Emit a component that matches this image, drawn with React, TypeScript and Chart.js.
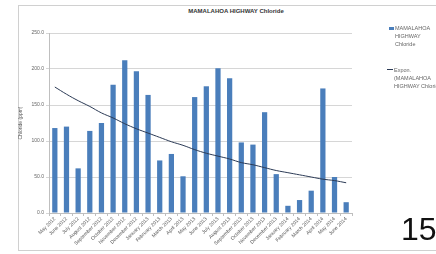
import React, { useEffect, useRef } from "react";
import { Chart, registerables } from "chart.js";

Chart.register(...registerables);

const categories = [
  "May 2012", "June 2012", "July 2012", "August 2012", "September 2012", "October 2012",
  "November 2012", "December 2012", "January 2013", "February 2013", "March 2013", "April 2013",
  "May 2013", "June 2013", "July 2013", "August 2013", "September 2013", "October 2013",
  "November 2013", "December 2013", "January 2014", "February 2014", "March 2014", "April 2014",
  "May 2014", "June 2014",
];

const chloride = [
  118, 120, 62, 114, 125, 178, 212, 197, 164, 73, 82, 51, 161,
  176, 201, 187, 98, 95, 140, 54, 10, 18, 31, 173, 50, 15,
];

const trend = [
  175, 165, 156, 148, 139, 132, 124, 117, 111, 105, 99, 94, 88,
  83, 79, 75, 70, 67, 63, 59, 56, 53, 50, 47, 45, 42,
];

const seriesLabel = "MAMALAHOA HIGHWAY Chloride";
const trendLabel = "Expon. (MAMALAHOA HIGHWAY Chloride)";
const titleText = "MAMALAHOA HIGHWAY Chloride";
const yTitle = "Chloride (ppm)";

export default function App() {
  const ref = useRef<HTMLCanvasElement>(null);

  useEffect(() => {
    const chart = new Chart(ref.current!, {
      type: "bar",
      data: {
        labels: categories,
        datasets: [
          {
            type: "line",
            label: trendLabel,
            data: trend,
            borderColor: "#2b3a55",
            borderWidth: 1,
            pointRadius: 0,
            tension: 0.4,
            order: 0,
          } as any,
          {
            type: "bar",
            label: seriesLabel,
            data: chloride,
            backgroundColor: "#4a7ebb",
            borderWidth: 0,
            barPercentage: 0.45,
            categoryPercentage: 1,
            order: 1,
          },
        ],
      },
      options: {
        responsive: false,
        animation: false,
        layout: { padding: { top: 28, right: 38, left: 0, bottom: 0 } },
        plugins: {
          legend: { display: false },
          title: { display: false },
          tooltip: { enabled: false },
        },
        scales: {
          x: {
            afterFit: (s: any) => { s.height = 37; },
            grid: { offset: true, drawOnChartArea: false, tickLength: 3, color: "#bfbfbf" },
            border: { color: "#bfbfbf" },
            ticks: {
              maxRotation: 45,
              minRotation: 45,
              autoSkip: false,
              padding: 0,
              font: { size: 5, family: "Liberation Sans, Arial, sans-serif" },
              color: "#555",
            },
          },
          y: {
            min: 0,
            max: 250,
            afterFit: (s: any) => { s.width = 31; },
            grid: { tickLength: 3, color: "#d6d6d6" },
            border: { color: "#bfbfbf" },
            ticks: {
              stepSize: 50,
              padding: 2,
              font: { size: 5, family: "Liberation Sans, Arial, sans-serif" },
              color: "#666",
              callback: (v: any) => Number(v).toFixed(1),
            },
            title: {
              display: true,
              text: yTitle,
              padding: 0,
              font: { size: 5, family: "Liberation Sans, Arial, sans-serif" },
              color: "#555",
            },
          },
        },
      },
    });
    return () => chart.destroy();
  }, []);

  const legendText: React.CSSProperties = {
    position: "absolute",
    fontFamily: "Liberation Sans, Arial, sans-serif",
    fontSize: 5.5,
    lineHeight: "8px",
    color: "#666",
    whiteSpace: "nowrap",
  };

  return (
    <div style={{ position: "fixed", left: 0, top: 0, width: 436, height: 254, background: "#fff", overflow: "hidden" }}>
      <div style={{ position: "absolute", left: 18, top: 5, width: 440, height: 246, border: "1px solid #d0d0d0", boxSizing: "border-box" }} />
      <div
        style={{
          position: "absolute", left: 136, width: 200, top: 8, textAlign: "center",
          fontFamily: "Liberation Sans, Arial, sans-serif", fontWeight: "bold", fontSize: 6, color: "#333",
        }}
      >
        {titleText}
      </div>
      <canvas ref={ref} width={372} height={245} style={{ position: "absolute", left: 18, top: 5 }} />
      <div style={{ position: "absolute", left: 389, top: 27, width: 5, height: 3, background: "#4a7ebb" }} />
      <div style={{ ...legendText, left: 395, top: 24 }}>MAMALAHOA<br />HIGHWAY<br />Chloride</div>
      <div style={{ position: "absolute", left: 387, top: 69, width: 6, height: 1, background: "#2b3a55" }} />
      <div style={{ ...legendText, left: 394, top: 66 }}>Expon.<br />(MAMALAHOA<br />HIGHWAY Chloride)</div>
      <div
        style={{
          position: "absolute", left: 401, top: 213, fontFamily: "Liberation Sans, Arial, sans-serif",
          fontSize: 32, lineHeight: "32px", color: "#111",
        }}
      >
        15
      </div>
    </div>
  );
}
